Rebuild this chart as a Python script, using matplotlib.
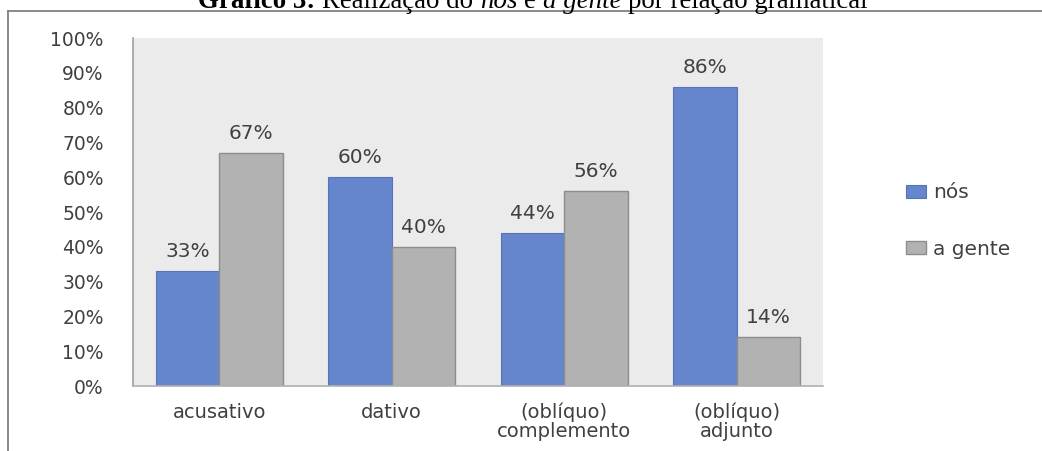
import numpy as np
import matplotlib
matplotlib.use("Agg")
import matplotlib.pyplot as plt
from matplotlib.lines import Line2D

# dados do gráfico
categorias = ["acusativo", "dativo", "(oblíquo)\ncomplemento", "(oblíquo)\nadjunto"]
nos = [0.33, 0.60, 0.44, 0.86]
a_gente = [0.67, 0.40, 0.56, 0.14]
rotulos_nos = ["33%", "60%", "44%", "86%"]
rotulos_gente = ["67%", "40%", "56%", "14%"]
yticks = [0, 0.1, 0.2, 0.3, 0.4, 0.5, 0.6, 0.7, 0.8, 0.9, 1.0]
ytick_labels = ["0%", "10%", "20%", "30%", "40%", "50%", "60%", "70%", "80%", "90%", "100%"]

AZUL = "#6585CC"
CINZA = "#B2B2B2"
TEXTO = "#404040"
W, H = 1042, 451

fig = plt.figure(figsize=(W / 100, H / 100), dpi=100)
ax = fig.add_axes([133 / W, 1 - 386 / H, (823 - 133) / W, (386 - 38) / H])
ax.set_facecolor("#EBEBEB")

x = np.arange(len(categorias))
larg = 0.368
b1 = ax.bar(x - larg / 2, nos, larg, color=AZUL, edgecolor="#5674B8", linewidth=0.8, label="nós")
b2 = ax.bar(x + larg / 2, a_gente, larg, color=CINZA, edgecolor="#8C8C8C", linewidth=1.0, label="a gente")

# rótulos de valor acima das barras
for xi, v, t in zip(x - larg / 2, nos, rotulos_nos):
    ax.annotate(t, (xi, v), xytext=(0, 10), textcoords="offset points",
                ha="center", va="baseline", fontsize=14.5, color=TEXTO)
for xi, v, t in zip(x + larg / 2, a_gente, rotulos_gente):
    ax.annotate(t, (xi, v), xytext=(0, 10), textcoords="offset points",
                ha="center", va="baseline", fontsize=14.5, color=TEXTO)

ax.set_xlim(-0.5, len(categorias) - 0.5)
ax.set_ylim(0, 1.0)
ax.set_yticks(yticks)
ax.set_yticklabels(ytick_labels, fontsize=13.5, color=TEXTO)
ax.set_xticks(x)
ax.set_xticklabels(categorias, fontsize=14, color=TEXTO, linespacing=1.0)
ax.tick_params(axis="y", length=0, pad=21)
ax.tick_params(axis="x", length=0, pad=12)
for s in ["top", "right"]:
    ax.spines[s].set_visible(False)
ax.spines["left"].set_color("#A0A0A0")
ax.spines["bottom"].set_color("#B0B0B0")
ax.spines["left"].set_linewidth(1.2)
ax.spines["bottom"].set_linewidth(1.2)

fig.legend(handles=[b1, b2], labels=["nós", "a gente"], loc="center left",
           bbox_to_anchor=(906 / W, 1 - 221 / H), frameon=False, fontsize=14.5,
           handlelength=1.0, handleheight=0.65, handletextpad=0.35,
           labelspacing=1.85, borderpad=0, borderaxespad=0, labelcolor=TEXTO)

# moldura (cortada) da figura
fig.add_artist(Line2D([8 / W, 1], [1 - 11 / H, 1 - 11 / H], color="#808080", lw=1.3))
fig.add_artist(Line2D([8 / W, 8 / W], [0, 1 - 11 / H], color="#808080", lw=1.3))

# título em partes (negrito / itálico), cortado no topo como no original
partes = [("Gráfico 3:", "bold", "normal"), ("Realização do", "normal", "normal"),
          ("nós", "normal", "italic"), ("e", "normal", "normal"),
          ("a gente", "normal", "italic"), ("por relação gramatical", "normal", "normal")]
fs_tit = 19.4
renderer = fig.canvas.get_renderer()
textos = []
for txt, peso, estilo in partes:
    t = fig.text(0, 1 - 8 / H, txt, fontsize=fs_tit, fontweight=peso, fontstyle=estilo,
                 family="Liberation Serif", va="baseline", ha="left", color="black")
    textos.append(t)
larguras = [t.get_window_extent(renderer).width for t in textos]
espaco = 0.25 * fs_tit * 100 / 72
total = sum(larguras) + espaco * (len(textos) - 1)
pos = 533 - total / 2
for t, lw_ in zip(textos, larguras):
    t.set_x(pos / W)
    pos += lw_ + espaco

fig.savefig("out.png", dpi=100)
